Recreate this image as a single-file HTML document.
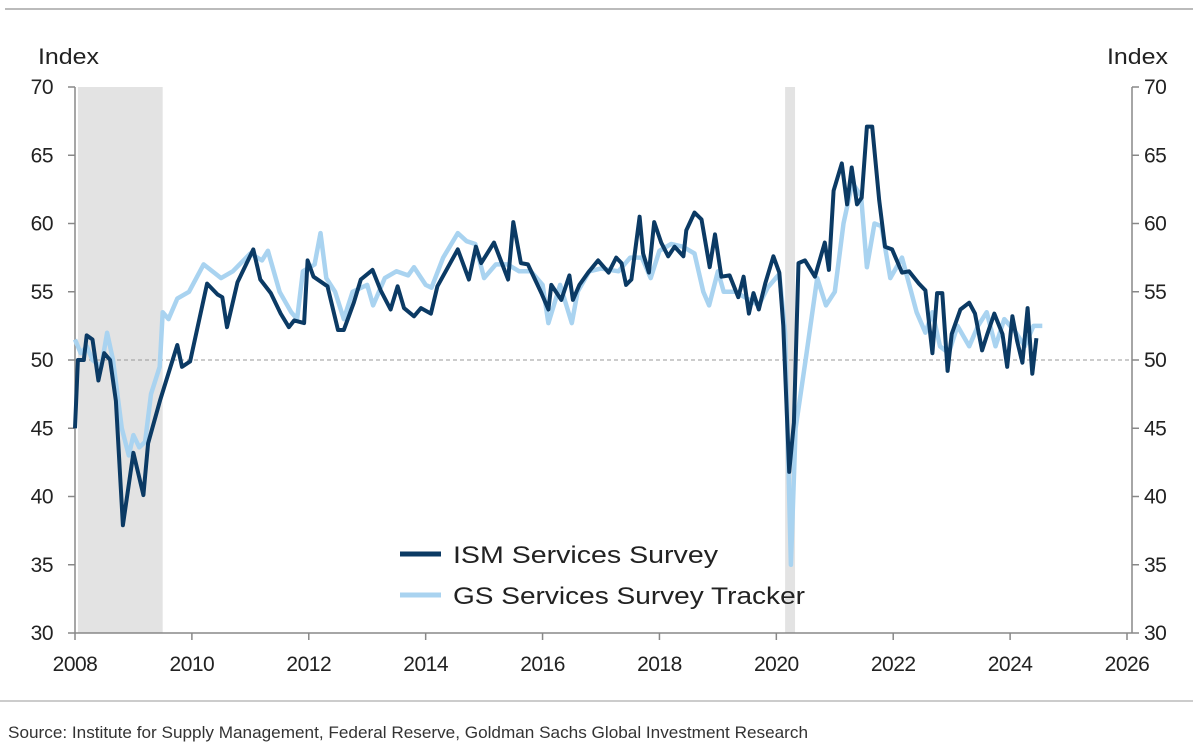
<!DOCTYPE html>
<html><head><meta charset="utf-8"><style>
body{margin:0;background:#fff;width:1193px;height:752px;overflow:hidden;font-family:"Liberation Sans",Arial,sans-serif}
svg{display:block}
</style></head><body>
<svg id="chart" width="1193" height="752" xmlns="http://www.w3.org/2000/svg" font-family="Liberation Sans, Arial, sans-serif">
<line x1="5" y1="9" x2="1193" y2="9" stroke="#bbb" stroke-width="2"/>
<line x1="0" y1="701" x2="1193" y2="701" stroke="#bbb" stroke-width="1.5"/>
<text x="38" y="64" font-size="22" fill="#222" textLength="61" lengthAdjust="spacingAndGlyphs">Index</text>
<text x="1107" y="64" font-size="22" fill="#222" textLength="61" lengthAdjust="spacingAndGlyphs">Index</text>
<g id="shade"></g><g id="grid"></g><g id="axes"></g><g id="series"></g>
<g>
<line x1="400" y1="554" x2="441" y2="554" stroke="#0b3a64" stroke-width="5"/>
<text x="453" y="563" font-size="24" fill="#222" textLength="265" lengthAdjust="spacingAndGlyphs">ISM Services Survey</text>
<line x1="400" y1="595" x2="441" y2="595" stroke="#a9d3f0" stroke-width="5"/>
<text x="453" y="604" font-size="24" fill="#222" textLength="352" lengthAdjust="spacingAndGlyphs">GS Services Survey Tracker</text>
</g>
<text x="8" y="738" font-size="17" fill="#333" textLength="800" lengthAdjust="spacingAndGlyphs">Source: Institute for Supply Management, Federal Reserve, Goldman Sachs Global Investment Research</text>
</svg>
<script>
const yTicks=[30,35,40,45,50,55,60,65,70];
const xTicks=[2008,2010,2012,2014,2016,2018,2020,2022,2024,2026];
const recessions=[[2008.05,2009.5],[2020.15,2020.32]];
const ismDates=[2008.0,2008.05,2008.15,2008.2,2008.3,2008.4,2008.5,2008.6,2008.7,2008.82,2009.0,2009.17,2009.25,2009.46,2009.75,2009.83,2009.97,2010.26,2010.44,2010.52,2010.6,2010.78,2011.05,2011.17,2011.35,2011.52,2011.66,2011.75,2011.92,2011.98,2012.08,2012.32,2012.5,2012.6,2012.77,2012.89,2013.09,2013.23,2013.4,2013.52,2013.63,2013.8,2013.92,2014.09,2014.2,2014.55,2014.74,2014.86,2014.95,2015.17,2015.41,2015.5,2015.63,2015.75,2015.98,2016.1,2016.15,2016.32,2016.46,2016.52,2016.63,2016.78,2016.95,2017.13,2017.26,2017.35,2017.43,2017.52,2017.66,2017.72,2017.82,2017.91,2018.03,2018.15,2018.26,2018.41,2018.46,2018.6,2018.72,2018.86,2018.95,2019.06,2019.2,2019.35,2019.44,2019.53,2019.61,2019.7,2019.81,2019.95,2020.05,2020.12,2020.22,2020.3,2020.38,2020.49,2020.66,2020.83,2020.9,2020.98,2021.12,2021.21,2021.29,2021.38,2021.46,2021.55,2021.64,2021.76,2021.86,2021.98,2022.15,2022.27,2022.44,2022.55,2022.67,2022.75,2022.84,2022.93,2023.0,2023.15,2023.3,2023.4,2023.52,2023.61,2023.73,2023.87,2023.95,2024.04,2024.12,2024.21,2024.3,2024.38,2024.45,2024.52];
const ismValues=[45,50,50,51.8,51.5,48.5,50.5,50,47,37.9,43.2,40.1,43.9,47.1,51.1,49.5,49.9,55.6,54.8,54.6,52.4,55.7,58.1,55.9,54.9,53.4,52.4,52.9,52.7,57.3,56.1,55.4,52.2,52.2,54.2,55.9,56.6,55.1,53.7,55.4,53.8,53.2,53.8,53.4,55.4,58.1,55.9,58.3,57.1,58.6,55.9,60.1,57.1,57,54.9,53.7,55.5,54.4,56.2,54.4,55.5,56.4,57.3,56.4,57.5,57.1,55.5,55.9,60.5,57.8,56.4,60.1,58.6,57.6,58.3,57.6,59.5,60.8,60.3,56.8,59.2,56.1,56.2,54.6,56.1,53.4,54.9,53.7,55.6,57.6,56.4,52.5,41.8,45.4,57.1,57.3,56.1,58.6,56.6,62.4,64.4,61.4,64.1,61.4,61.9,67.1,67.1,61.7,58.3,58.1,56.4,56.5,55.6,55.1,50.5,54.9,54.9,49.2,51.9,53.7,54.2,53.4,50.7,51.9,53.4,51.9,49.5,53.2,51.4,49.8,53.8,49,51.6];
const gsDates=[2008.0,2008.1,2008.2,2008.3,2008.45,2008.55,2008.65,2008.8,2008.92,2009.0,2009.1,2009.2,2009.3,2009.45,2009.5,2009.6,2009.75,2009.95,2010.2,2010.5,2010.7,2011.0,2011.2,2011.3,2011.5,2011.7,2011.8,2011.9,2012.1,2012.2,2012.3,2012.45,2012.6,2012.75,2013.0,2013.1,2013.3,2013.5,2013.7,2013.8,2014.0,2014.1,2014.3,2014.55,2014.7,2014.85,2015.0,2015.2,2015.4,2015.6,2015.8,2016.0,2016.1,2016.3,2016.5,2016.6,2016.8,2017.0,2017.3,2017.5,2017.7,2017.85,2018.0,2018.2,2018.4,2018.6,2018.75,2018.85,2019.0,2019.1,2019.3,2019.5,2019.7,2019.85,2020.05,2020.15,2020.25,2020.33,2020.5,2020.7,2020.85,2021.0,2021.15,2021.3,2021.45,2021.55,2021.68,2021.8,2021.95,2022.15,2022.4,2022.55,2022.67,2022.8,2022.95,2023.1,2023.3,2023.45,2023.6,2023.75,2023.9,2024.1,2024.25,2024.4,2024.55];
const gsValues=[51.5,50.5,51,50,49.5,52,50,45,43,44.5,43.6,44,47.5,49.5,53.5,53,54.5,55,57,56,56.5,57.8,57.3,58,55,53.5,53,56.5,57,59.3,56,55,53,55,55.5,54,56,56.5,56.2,56.8,55.5,55.3,57.5,59.3,58.7,58.5,56,57,57,56.5,56.5,55.5,52.7,55.5,52.7,55,56.5,56.7,56.5,57.5,57.5,56,58,58.5,58.3,57.8,55,54,56.5,55,55,54.5,54,55.3,56.3,52,35,45,50,56,54,55,60,63,62,56.8,60,59.8,56,57.5,53.5,52,53.5,51,50.5,52.5,51,52.5,53.5,51,53,52,51,52.5,52.5];
const NS='http://www.w3.org/2000/svg';
const X0=75,X1=1127,Y0=633,Y1=87;
function xs(t){return X0+(t-2008)/(2026-2008)*(X1-X0);}
function ys(v){return Y0-(v-30)/(70-30)*(Y0-Y1);}
function mk(tag,attrs,parent){const e=document.createElementNS(NS,tag);for(const k in attrs)e.setAttribute(k,attrs[k]);parent.appendChild(e);return e;}
const shade=document.getElementById('shade'),grid=document.getElementById('grid'),axes=document.getElementById('axes'),series=document.getElementById('series');
recessions.forEach(r=>{const e=mk('rect',{x:xs(r[0]),y:Y1,width:xs(r[1])-xs(r[0]),height:Y0-Y1,fill:'#e3e3e3'},shade);

});
const ref=mk('line',{x1:X0,x2:1132,y1:ys(50),y2:ys(50),stroke:'#999','stroke-dasharray':'4,3','stroke-width':1},grid);


const la=mk('line',{x1:X0,x2:X0,y1:Y1,y2:Y0,stroke:'#888','stroke-width':1.5},axes);


const ra=mk('line',{x1:1132,x2:1132,y1:Y1,y2:Y0,stroke:'#888','stroke-width':1.5},axes);


const xa=mk('line',{x1:X0,x2:1132,y1:Y0,y2:Y0,stroke:'#888','stroke-width':1.5},axes);


yTicks.forEach(v=>{const y=ys(v);
mk('line',{x1:X0-7,x2:X0,y1:y,y2:y,stroke:'#888','stroke-width':1.5},axes);
mk('line',{x1:1132,x2:1139,y1:y,y2:y,stroke:'#888','stroke-width':1.5},axes);
const l=mk('text',{x:53,y:y+7,'font-size':21,fill:'#222','text-anchor':'end','letter-spacing':'-0.5'},axes);l.textContent=v;


const r=mk('text',{x:1144,y:y+7,'font-size':21,fill:'#222','letter-spacing':'-0.5'},axes);r.textContent=v;

});
xTicks.forEach(t=>{const x=xs(t);
mk('line',{x1:x,x2:x,y1:Y0,y2:Y0+7,stroke:'#888','stroke-width':1.5},axes);
const l=mk('text',{x:x,y:671,'font-size':21,fill:'#222','text-anchor':'middle','letter-spacing':'-0.5'},axes);l.textContent=t;

});
function path(d,v){return d.map((t,i)=>(i?'L':'M')+xs(t).toFixed(1)+','+ys(v[i]).toFixed(1)).join(' ');}
const gs=mk('path',{d:path(gsDates,gsValues),fill:'none',stroke:'#a9d3f0','stroke-width':4.5,'stroke-linejoin':'round'},series);


const ism=mk('path',{d:path(ismDates,ismValues),fill:'none',stroke:'#0b3a64','stroke-width':4,'stroke-linejoin':'round'},series);


</script>
</body></html>
